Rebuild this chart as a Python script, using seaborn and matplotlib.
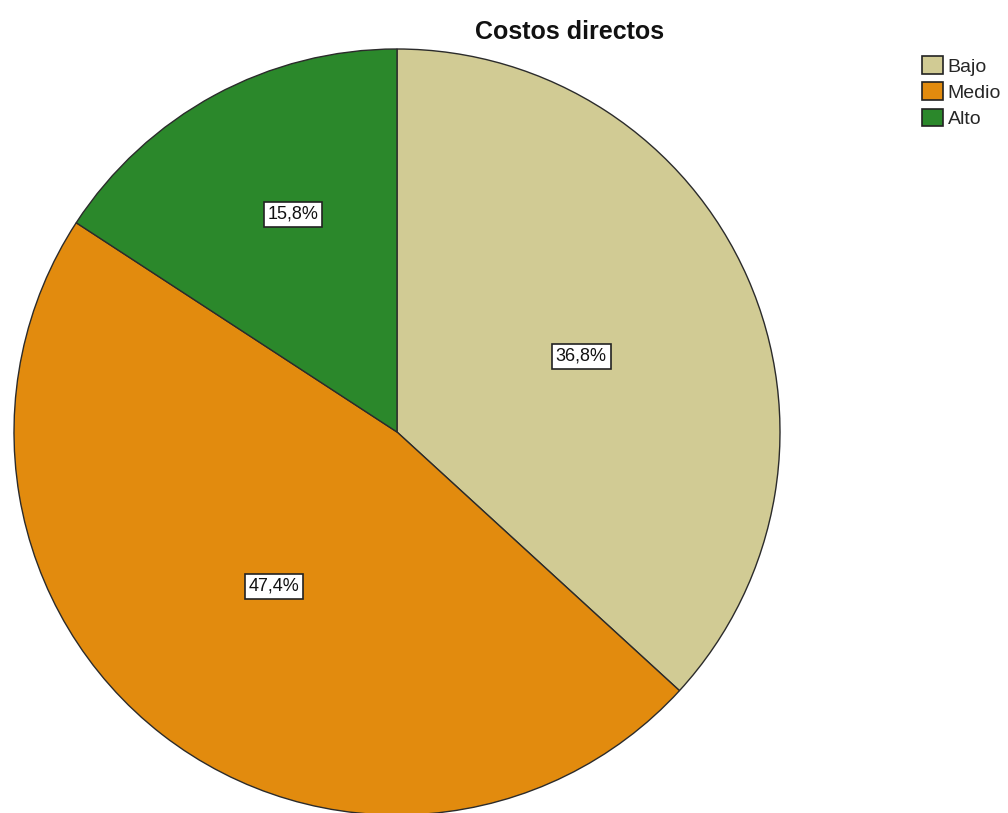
import numpy as np
import matplotlib
matplotlib.use("Agg")
import matplotlib.pyplot as plt
import matplotlib.patches as mpatches
import seaborn as sns

sns.set_theme(style="white")
plt.rcParams["font.family"] = ["Liberation Sans", "DejaVu Sans"]

categories = ["Bajo", "Medio", "Alto"]
percentages = [36.8, 47.4, 15.8]
colors = ["#D1CB94", "#E28B0E", "#2B882B"]
# label placement inside each wedge: radius fraction and angular nudge (deg)
label_radius = [0.52, 0.515, 0.63]
label_nudge = [-1.4, -0.8, -2.9]
title = "Costos directos"

W, H = 1008, 813
fig = plt.figure(figsize=(W / 100, H / 100), dpi=100)
cx, cy, r = 397, 432, 383
ax = fig.add_axes([(cx - r) / W, (H - cy - r) / H, 2 * r / W, 2 * r / H])

wedges, _ = ax.pie(
    percentages,
    colors=colors,
    startangle=90,
    counterclock=False,
    wedgeprops=dict(edgecolor="#2b2b2b", linewidth=1.0),
)
ax.set_xlim(-1, 1)
ax.set_ylim(-1, 1)
ax.set_aspect("equal")
ax.axis("off")

for w, pct, lr, nd in zip(wedges, percentages, label_radius, label_nudge):
    ang = np.deg2rad((w.theta1 + w.theta2) / 2 + nd)
    ax.text(
        lr * np.cos(ang), lr * np.sin(ang),
        f"{pct:.1f}%".replace(".", ","),
        ha="center", va="center", fontsize=13, color="#111111",
        bbox=dict(boxstyle="square,pad=0.22", facecolor="white",
                  edgecolor="#222222", linewidth=1.2),
    )

fig.text(570 / W, 1 - 32 / H, title, ha="center", va="center",
         fontsize=18, fontweight="bold", color="#111111")

handles = [mpatches.Patch(facecolor=c, edgecolor="#222222", linewidth=1.2, label=l)
           for c, l in zip(colors, categories)]
fig.legend(handles=handles, loc="upper left", bbox_to_anchor=(922 / W, 1 - 56 / H),
           frameon=False, fontsize=14, handlelength=1.08, handleheight=1.03,
           handletextpad=0.25, labelspacing=0.35, borderpad=0, borderaxespad=0)

fig.savefig("out.png", dpi=100)
